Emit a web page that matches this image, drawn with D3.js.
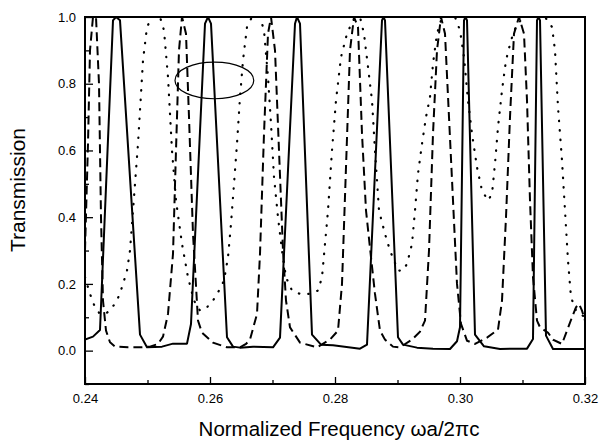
<!DOCTYPE html>
<html>
<head>
<meta charset="utf-8">
<script src="https://d3js.org/d3.v7.min.js"></script>
<style>
body { margin: 0; background: #fff; }
text { font-family: "Liberation Sans", Arial, sans-serif; fill: #000; }
</style>
</head>
<body>
<svg width="600" height="443"></svg>
<script>
// values
var solidFreq = [0.24, 0.24128, 0.2424, 0.24448, 0.24496, 0.2456, 0.2488, 0.24992, 0.25232, 0.25408, 0.25632, 0.25696,
    0.2592, 0.25968, 0.26016, 0.26272, 0.26368, 0.2648, 0.26688, 0.27008, 0.2712, 0.2736, 0.27392, 0.2744, 0.27632,
    0.27776, 0.27968, 0.284, 0.28512, 0.28752, 0.28776, 0.288, 0.29008, 0.29088, 0.29312, 0.29568, 0.2984, 0.29952,
    0.3, 0.30064, 0.30088, 0.30112, 0.3024, 0.30384, 0.3064, 0.31072, 0.31168, 0.31232, 0.31256, 0.3128, 0.31376,
    0.31488, 0.32];
var solidT = [0.033, 0.042, 0.062, 0.99, 1.0, 0.99, 0.048, 0.010, 0.012, 0.021, 0.021, 0.080,
    0.98, 1.0, 0.98, 0.040, 0.012, 0.009, 0.012, 0.010, 0.039, 0.98, 1.0, 0.98, 0.048,
    0.018, 0.016, 0.006, 0.018, 0.99, 1.0, 0.99, 0.040, 0.018, 0.009, 0.006, 0.005, 0.028,
    0.07, 0.99, 1.0, 0.99, 0.048, 0.013, 0.005, 0.006, 0.035, 0.99, 1.0, 0.99, 0.045,
    0.005, 0.005];

var dashFreq = [0.24, 0.24048, 0.2408, 0.24128, 0.24176, 0.24224, 0.24256, 0.24288, 0.24336, 0.244, 0.2448, 0.24688,
    0.2488, 0.2504, 0.25168, 0.25248, 0.25328, 0.25408, 0.25456, 0.25504, 0.25552, 0.25616, 0.25664, 0.25728,
    0.25808, 0.25872, 0.26048, 0.26272, 0.2648, 0.26576, 0.2664, 0.26752, 0.268, 0.26864, 0.26928, 0.26976, 0.2704,
    0.27104, 0.27168, 0.27216, 0.2728, 0.2744, 0.27712, 0.2792, 0.28048, 0.28112, 0.28176, 0.2824, 0.28304, 0.28368,
    0.28432, 0.28496, 0.28576, 0.2864, 0.2872, 0.288, 0.28928, 0.2904, 0.29232, 0.2936, 0.2944, 0.29504, 0.29568,
    0.29632, 0.29696, 0.2976, 0.29824, 0.29888, 0.29952, 0.30016, 0.30112, 0.3024, 0.30432, 0.30608, 0.30672,
    0.30736, 0.308, 0.30864, 0.30944, 0.31024, 0.31072, 0.3112, 0.31168, 0.31232, 0.3128, 0.31408, 0.31488,
    0.31632, 0.31712, 0.31792, 0.31856, 0.31904, 0.31952, 0.32];
var dashT = [0.30, 0.62, 0.90, 1.0, 1.0, 0.80, 0.40, 0.15, 0.06, 0.025, 0.012, 0.010,
    0.010, 0.012, 0.020, 0.042, 0.11, 0.29, 0.60, 0.90, 1.0, 0.95, 0.70, 0.35,
    0.09, 0.054, 0.024, 0.010, 0.010, 0.020, 0.033, 0.11, 0.29, 0.65, 0.95, 1.0, 0.90,
    0.60, 0.30, 0.15, 0.07, 0.024, 0.010, 0.033, 0.06, 0.20, 0.55, 0.90, 1.0, 0.97,
    0.65, 0.42, 0.28, 0.17, 0.06, 0.033, 0.012, 0.010, 0.033, 0.057, 0.09, 0.30, 0.65,
    0.90, 1.0, 0.95, 0.70, 0.45, 0.20, 0.08, 0.030, 0.020, 0.039, 0.063, 0.15,
    0.40, 0.70, 0.95, 1.0, 0.95, 0.75, 0.45, 0.22, 0.09, 0.07, 0.054, 0.033,
    0.020, 0.06, 0.10, 0.13, 0.14, 0.12, 0.09];

var dotFreq = [0.24, 0.2408, 0.2416, 0.2424, 0.2432, 0.244, 0.24512, 0.24592, 0.24672, 0.2472, 0.24768, 0.24848,
    0.2488, 0.24928, 0.24992, 0.25072, 0.252, 0.25264, 0.25328, 0.25392, 0.25456, 0.25552, 0.25648, 0.25744,
    0.2584, 0.25952, 0.26048, 0.26144, 0.26224, 0.26288, 0.26336, 0.26384, 0.26432, 0.2648, 0.26528, 0.26592,
    0.26672, 0.268, 0.26864, 0.26928, 0.26976, 0.27024, 0.27088, 0.27152, 0.27216, 0.27312, 0.2744, 0.276,
    0.27728, 0.27792, 0.2784, 0.27888, 0.27952, 0.28016, 0.28096, 0.28192, 0.28288, 0.284, 0.28464, 0.28528,
    0.28592, 0.2864, 0.28704, 0.288, 0.2888, 0.29008, 0.29088, 0.29152, 0.29232, 0.2928, 0.29328, 0.29392,
    0.29456, 0.2952, 0.29568, 0.29632, 0.29712, 0.2992, 0.3, 0.30064, 0.30128, 0.30192, 0.30272, 0.30352,
    0.30448, 0.30512, 0.3056, 0.30608, 0.30672, 0.30736, 0.30816, 0.30912, 0.3104, 0.3136, 0.31472, 0.3152,
    0.31568, 0.31632, 0.3168, 0.31728, 0.31776, 0.31856, 0.32];
var dotT = [0.22, 0.17, 0.13, 0.11, 0.11, 0.12, 0.15, 0.19, 0.24, 0.30, 0.42, 0.62,
    0.72, 0.87, 0.97, 1.0, 1.0, 0.96, 0.82, 0.60, 0.45, 0.32, 0.22, 0.15,
    0.12, 0.13, 0.15, 0.18, 0.21, 0.28, 0.38, 0.50, 0.62, 0.76, 0.87, 0.97,
    1.0, 1.0, 0.96, 0.82, 0.68, 0.52, 0.40, 0.30, 0.22, 0.18, 0.17, 0.17,
    0.18, 0.22, 0.32, 0.42, 0.60, 0.75, 0.88, 0.95, 0.99, 1.0, 0.95, 0.85,
    0.75, 0.60, 0.42, 0.35, 0.30, 0.24, 0.24, 0.26, 0.32, 0.42, 0.53, 0.62,
    0.70, 0.76, 0.86, 0.95, 1.0, 1.0, 0.96, 0.88, 0.75, 0.65, 0.55, 0.48,
    0.45, 0.47, 0.56, 0.67, 0.78, 0.87, 0.93, 0.98, 1.0, 1.0, 0.97, 0.90,
    0.73, 0.57, 0.42, 0.27, 0.16, 0.12, 0.10];

var xTicks = [0.24, 0.26, 0.28, 0.30, 0.32];
var xMinor = [0.25, 0.27, 0.29, 0.31];
var yTicks = [0.0, 0.2, 0.4, 0.6, 0.8, 1.0];
var yMinor = [-0.1, 0.1, 0.3, 0.5, 0.7, 0.9];

var svg = d3.select("svg"),
    margin = {top: 17, right: 15, bottom: 59, left: 85},
    width = +svg.attr("width") - margin.left - margin.right,
    height = +svg.attr("height") - margin.top - margin.bottom;

var x = d3.scaleLinear().domain([0.24, 0.32]).range([0, width]);
var y = d3.scaleLinear().domain([-0.1, 1.0]).range([height, 0]);

var g = svg.append("g").attr("transform", "translate(" + margin.left + "," + margin.top + ")");

svg.append("defs").append("clipPath").attr("id", "plot")
    .append("rect").attr("width", width).attr("height", height);

function pairs(f, t) {
    return f.map(function(d, i) { return [d, t[i]]; });
}

var line = d3.line()
    .x(function(d) { return x(d[0]); })
    .y(function(d) { return y(d[1]); });

var curves = g.append("g").attr("clip-path", "url(#plot)");

// dotted
curves.append("path")
    .datum(pairs(dotFreq, dotT))
    .attr("d", line)
    .attr("fill", "none")
    .attr("stroke", "#000")
    .attr("stroke-width", 2.2)
    .attr("stroke-linecap", "round")
    .attr("stroke-dasharray", "0.5,9");

// dashed
curves.append("path")
    .datum(pairs(dashFreq, dashT))
    .attr("d", line)
    .attr("fill", "none")
    .attr("stroke", "#000")
    .attr("stroke-width", 2)
    .attr("stroke-dasharray", "9,5");

// solid
curves.append("path")
    .datum(pairs(solidFreq, solidT))
    .attr("d", line)
    .attr("fill", "none")
    .attr("stroke", "#000")
    .attr("stroke-width", 2)
    .attr("stroke-linejoin", "round");

// ellipse marking
g.append("ellipse")
    .attr("cx", x(0.2607))
    .attr("cy", y(0.81))
    .attr("rx", x(0.2670) - x(0.2607))
    .attr("ry", y(0.755) - y(0.81))
    .attr("fill", "none")
    .attr("stroke", "#000")
    .attr("stroke-width", 1.2);

// axes, ticks pointing inward
var fmt = d3.format(".2f");
g.append("g")
    .attr("transform", "translate(0," + height + ")")
    .call(d3.axisBottom(x).tickValues(xTicks).tickSize(-7).tickPadding(10).tickFormat(fmt));
g.append("g")
    .attr("transform", "translate(0," + height + ")")
    .call(d3.axisBottom(x).tickValues(xMinor).tickSize(-4).tickFormat(""));
g.append("g")
    .call(d3.axisLeft(y).tickValues(yTicks).tickSize(-8).tickPadding(9).tickFormat(d3.format(".1f")));
g.append("g")
    .call(d3.axisLeft(y).tickValues(yMinor).tickSize(-4).tickFormat(""));

g.selectAll(".domain").remove();
g.selectAll(".tick line").attr("stroke", "#000").attr("stroke-width", 1.3);
g.selectAll(".tick text").style("font-size", "13px");

// frame
g.append("rect")
    .attr("width", width)
    .attr("height", height)
    .attr("fill", "none")
    .attr("stroke", "#000")
    .attr("stroke-width", 2);

svg.append("text")
    .attr("x", margin.left + width / 2 + 4)
    .attr("y", 436)
    .attr("text-anchor", "middle")
    .style("font-size", "20.5px")
    .text("Normalized Frequency \u03c9a/2\u03c0c");

svg.append("text")
    .attr("transform", "translate(25," + 190 + ") rotate(-90)")
    .attr("text-anchor", "middle")
    .style("font-size", "21px")
    .text("Transmission");
</script>
</body>
</html>
